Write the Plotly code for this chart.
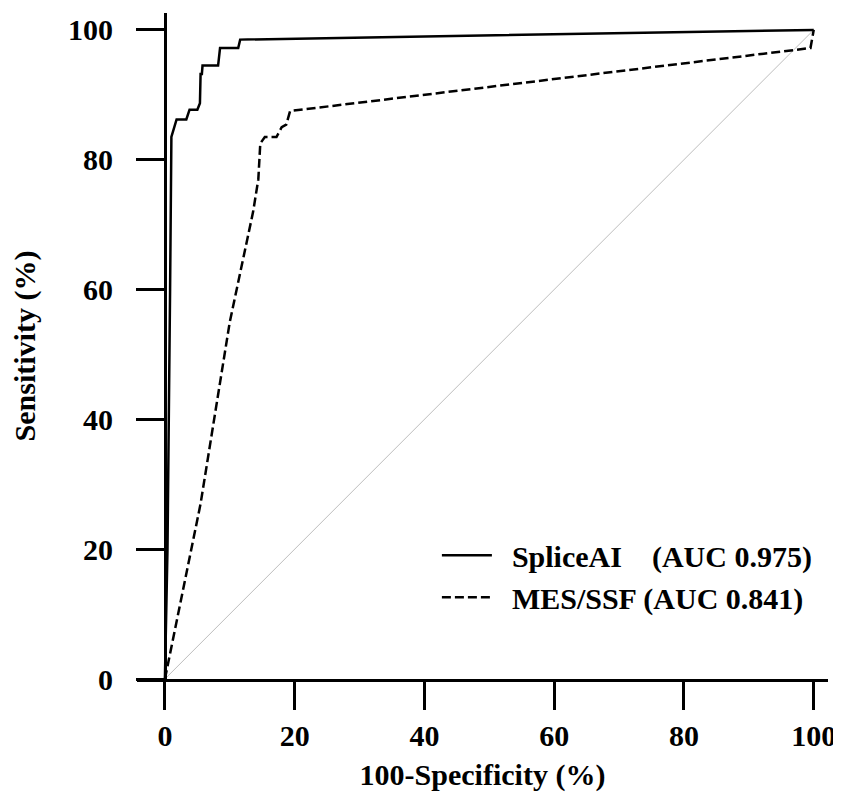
import plotly.graph_objects as go

# ---- data ----
splice_fpr = [0, 0.4, 0.8, 1.0, 1.8, 3.3, 3.8, 5.0, 5.4, 5.5, 5.7, 5.8, 8.2, 8.5, 11.3, 11.6, 100]
splice_tpr = [0, 20, 60, 83.5, 86.2, 86.2, 87.7, 87.7, 88.7, 93.2, 93.2, 94.5, 94.5, 97.2, 97.2, 98.5, 100]

mes_fpr = [0, 5.5, 10, 13.6, 14.4, 14.7, 15.4, 17.2, 18.0, 18.7, 19.3, 99.5, 100]
mes_tpr = [0, 27, 55, 72, 77, 82.5, 83.5, 83.5, 85.0, 85.4, 87.5, 97.2, 100]

diag = [0, 100]
ticks = [0, 20, 40, 60, 80, 100]
names = ["\u00a0\u00a0SpliceAI\u00a0\u00a0\u00a0\u00a0(AUC 0.975)", "\u00a0\u00a0MES/SSF (AUC 0.841)"]
x_title = "100-Specificity (%)"
y_title = "Sensitivity (%)"

x_range = [-4.3, 102.2]
y_range = [0, 102.6]

FONT = "Liberation Serif"

fig = go.Figure()
fig.add_trace(go.Scatter(x=diag, y=diag, mode="lines", showlegend=False,
                         line=dict(color="#bdbdbd", width=1)))
fig.add_trace(go.Scatter(x=splice_fpr, y=splice_tpr, mode="lines", name=names[0],
                         line=dict(color="black", width=2.5)))
fig.add_trace(go.Scatter(x=mes_fpr, y=mes_tpr, mode="lines", name=names[1],
                         line=dict(color="black", width=2.5, dash="9px,4px")))

ypos = (0 - x_range[0]) / (x_range[1] - x_range[0])

tickfont = dict(family=FONT, size=30, color="black", weight="bold")

fig.update_layout(
    width=833, height=788,
    margin=dict(l=129, r=13, t=5, b=117),
    plot_bgcolor="white", paper_bgcolor="white",
    hovermode=False,
    font=dict(family=FONT, color="black"),
    xaxis=dict(range=x_range, tickvals=ticks, showgrid=False, zeroline=False,
               showline=True, linecolor="black", linewidth=3,
               ticks="outside", ticklen=28, tickwidth=3, tickcolor="black",
               tickfont=tickfont, ticklabelstandoff=0, automargin=False,
               title=dict(text=x_title, font=dict(family=FONT, size=30, weight="bold"), standoff=13),
               anchor="y", fixedrange=True),
    yaxis=dict(range=y_range, tickvals=ticks, showgrid=False, zeroline=False,
               showline=True, linecolor="black", linewidth=3,
               ticks="outside", ticklen=28, tickwidth=3, tickcolor="black",
               tickfont=tickfont, ticklabelstandoff=17, automargin=False,
               title=dict(text=y_title, font=dict(family=FONT, size=30, weight="bold"), standoff=24),
               anchor="free", position=ypos, fixedrange=True),
    legend=dict(x=0.434, y=0.225, xanchor="left", yanchor="top",
                font=dict(family=FONT, size=30, color="black", weight="bold"),
                bgcolor="rgba(0,0,0,0)", itemwidth=50, tracegroupgap=0),
)

fig.write_html("out.html")
